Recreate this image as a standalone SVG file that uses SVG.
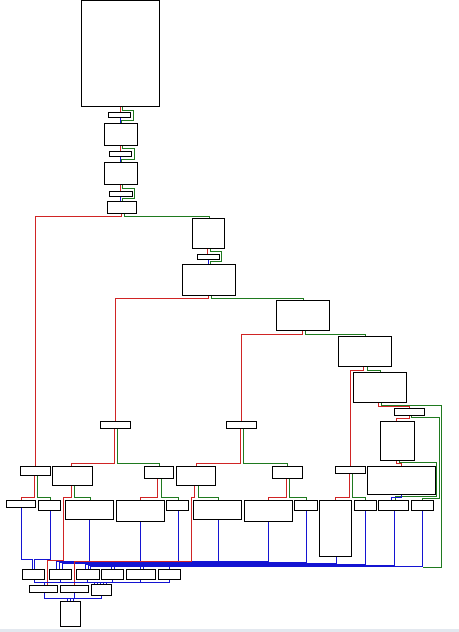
<svg xmlns="http://www.w3.org/2000/svg" width="459" height="632" viewBox="0 0 459 632">
<style>
.n rect{fill:#fff;stroke:#000;stroke-width:1.2}
#edges polyline{fill:none;stroke-width:1.2}
#edges .r{stroke:#d02424}
#edges .g{stroke:#1f7a1f}
#edges .b{stroke:#1414d2}
</style>
<rect x="0" y="0" width="459" height="632" fill="#fff"/>
<rect x="0" y="629" width="459" height="3" fill="#e3e8ef"/>
<g id="edges" shape-rendering="crispEdges">
<polyline class="r" points="120.5,107 120.5,112"/>
<polyline class="g" points="122.5,107 122.5,110.5 133.5,110.5 133.5,120.5 121.5,120.5 121.5,123"/>
<polyline class="b" points="120.5,117 120.5,123"/>
<polyline class="r" points="120.5,146 120.5,151"/>
<polyline class="g" points="122.5,146 122.5,148.5 134.5,148.5 134.5,159.5 121.5,159.5 121.5,162"/>
<polyline class="b" points="120.5,156 120.5,162"/>
<polyline class="r" points="120.5,185 120.5,191"/>
<polyline class="g" points="122.5,185 122.5,188.5 134.5,188.5 134.5,198.5 122.5,198.5 122.5,201"/>
<polyline class="b" points="120.5,196 120.5,201"/>
<polyline class="r" points="121.5,213 121.5,216.5 35.5,216.5 35.5,466"/>
<polyline class="g" points="124.5,213 124.5,216.5 209.5,216.5 209.5,218"/>
<polyline class="r" points="207.5,248 207.5,254"/>
<polyline class="g" points="210.5,248 210.5,251.5 221.5,251.5 221.5,261.5 210.5,261.5 210.5,264"/>
<polyline class="b" points="208.5,259 208.5,264"/>
<polyline class="r" points="208.5,295 208.5,298.5 115.5,298.5 115.5,421"/>
<polyline class="g" points="211.5,295 211.5,298.5 303.5,298.5 303.5,300"/>
<polyline class="r" points="302.5,330 302.5,334.5 241.5,334.5 241.5,421"/>
<polyline class="g" points="305.5,330 305.5,334.5 365.5,334.5 365.5,336"/>
<polyline class="r" points="363.5,366 363.5,370.5 350.5,370.5 350.5,466"/>
<polyline class="g" points="367.5,366 367.5,370.5 380.5,370.5 380.5,372"/>
<polyline class="r" points="378.5,402 378.5,406.5 409.5,406.5 409.5,408"/>
<polyline class="g" points="381.5,402 381.5,405.5 441.5,405.5 441.5,567.5 422.5,567.5"/>
<polyline class="r" points="409.5,415 409.5,418.5 396.5,418.5 396.5,421"/>
<polyline class="g" points="411.5,415 411.5,417.5 439.5,417.5 439.5,498.5 422.5,498.5 422.5,500"/>
<polyline class="r" points="396.5,460 396.5,463.5 401.5,463.5 401.5,466"/>
<polyline class="g" points="399.5,460 399.5,462.5 436.5,462.5 436.5,496.5 395.5,496.5 395.5,500"/>
<polyline class="b" points="401.5,494 401.5,497.5 391.5,497.5 391.5,500"/>
<polyline class="r" points="114.5,428 114.5,463.5 71.5,463.5 71.5,466"/>
<polyline class="g" points="117.5,428 117.5,463.5 159.5,463.5 159.5,466"/>
<polyline class="r" points="240.5,428 240.5,463.5 196.5,463.5 196.5,466"/>
<polyline class="g" points="243.5,428 243.5,463.5 287.5,463.5 287.5,466"/>
<polyline class="r" points="34.5,475 34.5,497.5 21.5,497.5 21.5,500"/>
<polyline class="g" points="37.5,475 37.5,497.5 50.5,497.5 50.5,500"/>
<polyline class="g" points="74.5,485 74.5,497.5 90.5,497.5 90.5,500"/>
<polyline class="r" points="157.5,478 157.5,497.5 140.5,497.5 140.5,500"/>
<polyline class="g" points="161.5,478 161.5,497.5 178.5,497.5 178.5,500"/>
<polyline class="g" points="198.5,485 198.5,497.5 218.5,497.5 218.5,500"/>
<polyline class="r" points="286.5,478 286.5,497.5 268.5,497.5 268.5,500"/>
<polyline class="g" points="289.5,478 289.5,497.5 306.5,497.5 306.5,500"/>
<polyline class="r" points="349.5,473 349.5,497.5 335.5,497.5 335.5,500"/>
<polyline class="g" points="352.5,473 352.5,497.5 365.5,497.5 365.5,500"/>
<polyline class="b" points="21.5,507 21.5,559.5 32.5,559.5 32.5,569"/>
<polyline class="b" points="50.5,510 50.5,559.5 34.5,559.5 34.5,569"/>
<polyline class="b" points="89.5,519 89.5,562"/>
<polyline class="b" points="140.5,521 140.5,562"/>
<polyline class="b" points="178.5,510 178.5,563"/>
<polyline class="b" points="218.5,519 218.5,564"/>
<polyline class="b" points="268.5,521 268.5,563"/>
<polyline class="b" points="306.5,510 306.5,564"/>
<polyline class="b" points="336.5,556 336.5,565"/>
<polyline class="b" points="365.5,510 365.5,565"/>
<polyline class="b" points="394.5,510 394.5,566"/>
<polyline class="b" points="422.5,510 422.5,567"/>
<polyline class="b" points="56.5,569 56.5,561.5 268.5,561.5"/>
<polyline class="b" points="59.5,569 59.5,562.5 306.5,562.5"/>
<polyline class="b" points="62.5,569 62.5,563.5 336.5,563.5"/>
<polyline class="b" points="85.5,569 85.5,564.5 365.5,564.5"/>
<polyline class="b" points="88.5,569 88.5,565.5 394.5,565.5"/>
<polyline class="b" points="90.5,569 90.5,566.5 422.5,566.5"/>
<polyline class="b" points="111.5,569 111.5,564.5"/>
<polyline class="b" points="114.5,569 114.5,565.5"/>
<polyline class="b" points="140.5,569 140.5,565.5"/>
<polyline class="b" points="143.5,569 143.5,566.5"/>
<polyline class="b" points="169.5,569 169.5,566.5"/>
<polyline class="r" points="71.5,485 71.5,497.5 63.5,497.5 63.5,560.5 47.5,560.5 47.5,585"/>
<polyline class="r" points="194.5,485 194.5,497.5 191.5,497.5 191.5,561.5 74.5,561.5 74.5,585"/>
<polyline class="b" points="34.5,579 34.5,582.5 169.5,582.5 169.5,579"/>
<polyline class="b" points="60.5,579 60.5,582.5"/>
<polyline class="b" points="87.5,579 87.5,582.5"/>
<polyline class="b" points="112.5,579 112.5,582.5"/>
<polyline class="b" points="140.5,579 140.5,582.5"/>
<polyline class="b" points="44.5,582.5 44.5,585"/>
<polyline class="b" points="94.5,582.5 94.5,584"/>
<polyline class="b" points="97.5,582.5 97.5,584"/>
<polyline class="b" points="100.5,582.5 100.5,584"/>
<polyline class="b" points="103.5,582.5 103.5,584"/>
<polyline class="b" points="106.5,582.5 106.5,584"/>
<polyline class="b" points="44.5,592 44.5,598.5 101.5,598.5 101.5,595"/>
<polyline class="b" points="74.5,592 74.5,598.5"/>
<polyline class="b" points="67.5,598.5 67.5,601"/>
<polyline class="b" points="70.5,598.5 70.5,601"/>
<polyline class="b" points="73.5,598.5 73.5,601"/>
</g>
<g shape-rendering="crispEdges">
<g id="n0" class="n"><rect x="81.5" y="0.5" width="78" height="106"/></g>
<g id="n1" class="n"><rect x="108.5" y="112.5" width="22" height="5"/></g>
<g id="n2" class="n"><rect x="104.5" y="123.5" width="33" height="22"/></g>
<g id="n3" class="n"><rect x="109.5" y="151.5" width="22" height="5"/></g>
<g id="n4" class="n"><rect x="104.5" y="162.5" width="33" height="22"/></g>
<g id="n5" class="n"><rect x="109.5" y="191.5" width="23" height="5"/></g>
<g id="n6" class="n"><rect x="107.5" y="201.5" width="29" height="12"/></g>
<g id="n7" class="n"><rect x="192.5" y="218.5" width="32" height="30"/></g>
<g id="n8" class="n"><rect x="197.5" y="254.5" width="22" height="5"/></g>
<g id="n9" class="n"><rect x="182.5" y="264.5" width="53" height="31"/></g>
<g id="n10" class="n"><rect x="276.5" y="300.5" width="53" height="30"/></g>
<g id="n11" class="n"><rect x="338.5" y="336.5" width="53" height="30"/></g>
<g id="n12" class="n"><rect x="353.5" y="372.5" width="53" height="30"/></g>
<g id="n13" class="n"><rect x="394.5" y="408.5" width="30" height="7"/></g>
<g id="n14" class="n"><rect x="380.5" y="421.5" width="34" height="39"/></g>
<g id="n15" class="n"><rect x="100.5" y="421.5" width="30" height="7"/></g>
<g id="n16" class="n"><rect x="226.5" y="421.5" width="30" height="7"/></g>
<g id="n17" class="n"><rect x="20.5" y="466.5" width="30" height="9"/></g>
<g id="n18" class="n"><rect x="52.5" y="466.5" width="40" height="19"/></g>
<g id="n19" class="n"><rect x="144.5" y="466.5" width="29" height="12"/></g>
<g id="n20" class="n"><rect x="176.5" y="466.5" width="39" height="19"/></g>
<g id="n21" class="n"><rect x="272.5" y="466.5" width="30" height="12"/></g>
<g id="n22" class="n"><rect x="335.5" y="466.5" width="30" height="7"/></g>
<g id="n23" class="n"><rect x="367.5" y="466.5" width="68" height="28"/></g>
<g id="n24" class="n"><rect x="6.5" y="500.5" width="29" height="7"/></g>
<g id="n25" class="n"><rect x="38.5" y="500.5" width="22" height="10"/></g>
<g id="n26" class="n"><rect x="65.5" y="500.5" width="48" height="19"/></g>
<g id="n27" class="n"><rect x="116.5" y="500.5" width="48" height="21"/></g>
<g id="n28" class="n"><rect x="166.5" y="500.5" width="22" height="10"/></g>
<g id="n29" class="n"><rect x="193.5" y="500.5" width="48" height="19"/></g>
<g id="n30" class="n"><rect x="244.5" y="500.5" width="48" height="21"/></g>
<g id="n31" class="n"><rect x="294.5" y="500.5" width="23" height="10"/></g>
<g id="n32" class="n"><rect x="319.5" y="500.5" width="32" height="56"/></g>
<g id="n33" class="n"><rect x="354.5" y="500.5" width="22" height="10"/></g>
<g id="n34" class="n"><rect x="378.5" y="500.5" width="30" height="10"/></g>
<g id="n35" class="n"><rect x="411.5" y="500.5" width="22" height="10"/></g>
<g id="n36" class="n"><rect x="22.5" y="569.5" width="22" height="10"/></g>
<g id="n37" class="n"><rect x="49.5" y="569.5" width="22" height="10"/></g>
<g id="n38" class="n"><rect x="76.5" y="569.5" width="23" height="10"/></g>
<g id="n39" class="n"><rect x="101.5" y="569.5" width="22" height="10"/></g>
<g id="n40" class="n"><rect x="126.5" y="569.5" width="29" height="10"/></g>
<g id="n41" class="n"><rect x="158.5" y="569.5" width="22" height="10"/></g>
<g id="n42" class="n"><rect x="29.5" y="585.5" width="28" height="7"/></g>
<g id="n43" class="n"><rect x="60.5" y="585.5" width="28" height="7"/></g>
<g id="n44" class="n"><rect x="91.5" y="584.5" width="20" height="11"/></g>
<g id="n45" class="n"><rect x="60.5" y="601.5" width="20" height="25"/></g>
</g>
</svg>
